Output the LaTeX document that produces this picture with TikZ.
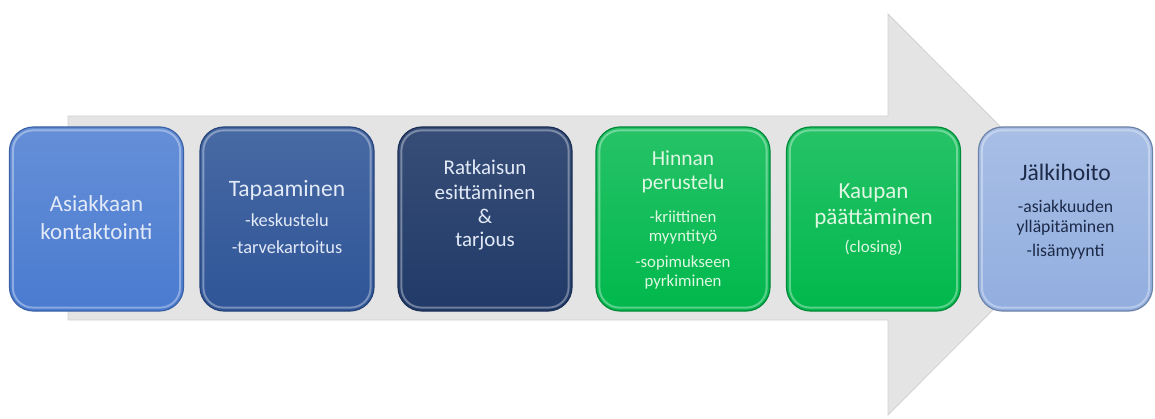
\documentclass[tikz,border=0pt]{standalone}
\usepackage{fontspec}
\setmainfont{Carlito}
\begin{document}
\begin{tikzpicture}[x=1pt,y=-1pt,
  stage/.style={rounded corners=24pt, minimum width=174pt, minimum height=184pt,
    line width=1.2pt, inner sep=0pt},
  rim/.style={rounded corners=20pt, line width=2pt, draw opacity=0.35},
  ln/.style={anchor=base, inner sep=0pt, font=\fontsize{#1}{#1}\selectfont},
  ln/.default=23
]
\definecolor{arrowgray}{HTML}{E4E4E4}
\definecolor{arrowedge}{HTML}{D2D2D2}
\definecolor{blueA}{HTML}{4A7BD0}
\definecolor{blueB}{HTML}{2F5597}
\definecolor{blueC}{HTML}{213A68}
\definecolor{greenA}{HTML}{00B84C}
\definecolor{blueD}{HTML}{92AEDF}
\definecolor{paleblue}{HTML}{E2EAF8}
\definecolor{palegreen}{HTML}{DDF7E2}
\definecolor{navytext}{HTML}{1C2A48}

\useasboundingbox (0,0) rectangle (1155,419);

% background process arrow
\coordinate (tailtop) at (68,116);
\coordinate (tailbot) at (68,320);
\coordinate (tip) at (1088,214.5);
\fill[arrowgray, draw=arrowedge, line width=0.8pt]
  (tailtop) -- (888,116) -- (888,14) -- (tip) -- (888,415) -- (888,320) -- (tailbot) -- cycle;

% stage boxes
\node[stage, draw=blueA!80!black, top color=blueA!85!white, bottom color=blueA] (s1) at (96.5,219) {};
\node[stage, draw=blueB!80!black, top color=blueB!88!white, bottom color=blueB] (s2) at (287,219) {};
\node[stage, draw=blueC!80!black, top color=blueC!90!white, bottom color=blueC] (s3) at (485,219) {};
\node[stage, draw=greenA!75!black, top color=greenA!85!white, bottom color=greenA] (s4) at (683,219) {};
\node[stage, draw=greenA!75!black, top color=greenA!85!white, bottom color=greenA] (s5) at (873.5,219) {};
\node[stage, draw=blueD!75!black, top color=blueD!80!white, bottom color=blueD] (s6) at (1065.5,219) {};

% bevel highlight inside each box
\foreach \b in {s1,s2,s3,s4,s5,s6}
  \draw[rim, white] ([shift={(4,4)}]\b.north west) rectangle ([shift={(-4,-4)}]\b.south east);

% stage 1
\begin{scope}[text=paleblue]
\node[ln=23] (t1a) at (96.5,212) {Asiakkaan};
\node[ln=23] (t1b) at (96.5,240) {kontaktointi};
\end{scope}

% stage 2
\begin{scope}[text=paleblue]
\node[ln=23.5] (t2a) at (287,197) {Tapaaminen};
\node[ln=18.4] (t2b) at (287,227) {-keskustelu};
\node[ln=18.4] (t2c) at (287,254) {-tarvekartoitus};
\end{scope}

% stage 3
\begin{scope}[text=paleblue]
\node[ln=21] (t3a) at (485,175) {Ratkaisun};
\node[ln=21] (t3b) at (485,200) {esittäminen};
\node[ln=21] (t3c) at (485,224) {\&};
\node[ln=21] (t3d) at (485,247) {tarjous};
\end{scope}

% stage 4
\begin{scope}[text=palegreen]
\node[ln=21.5] (t4a) at (683,166) {Hinnan};
\node[ln=21.5] (t4b) at (683,190) {perustelu};
\node[ln=16.8] (t4c) at (683,223) {-kriittinen};
\node[ln=16.8] (t4d) at (683,242) {myyntityö};
\node[ln=16.8] (t4e) at (683,268) {-sopimukseen};
\node[ln=16.8] (t4f) at (683,287) {pyrkiminen};
\end{scope}

% stage 5
\begin{scope}[text=palegreen]
\node[ln=23] (t5a) at (873.5,199) {Kaupan};
\node[ln=23] (t5b) at (873.5,225) {päättäminen};
\node[ln=17] (t5c) at (873.5,253) {(closing)};
\end{scope}

% stage 6
\begin{scope}[text=navytext]
\node[ln=23.6] (t6a) at (1065.5,181) {Jälkihoito};
\node[ln=17.7] (t6b) at (1065.5,213) {-asiakkuuden};
\node[ln=17.7] (t6c) at (1065.5,233) {ylläpitäminen};
\node[ln=17.7] (t6d) at (1065.5,257) {-lisämyynti};
\end{scope}
\end{tikzpicture}
\end{document}
